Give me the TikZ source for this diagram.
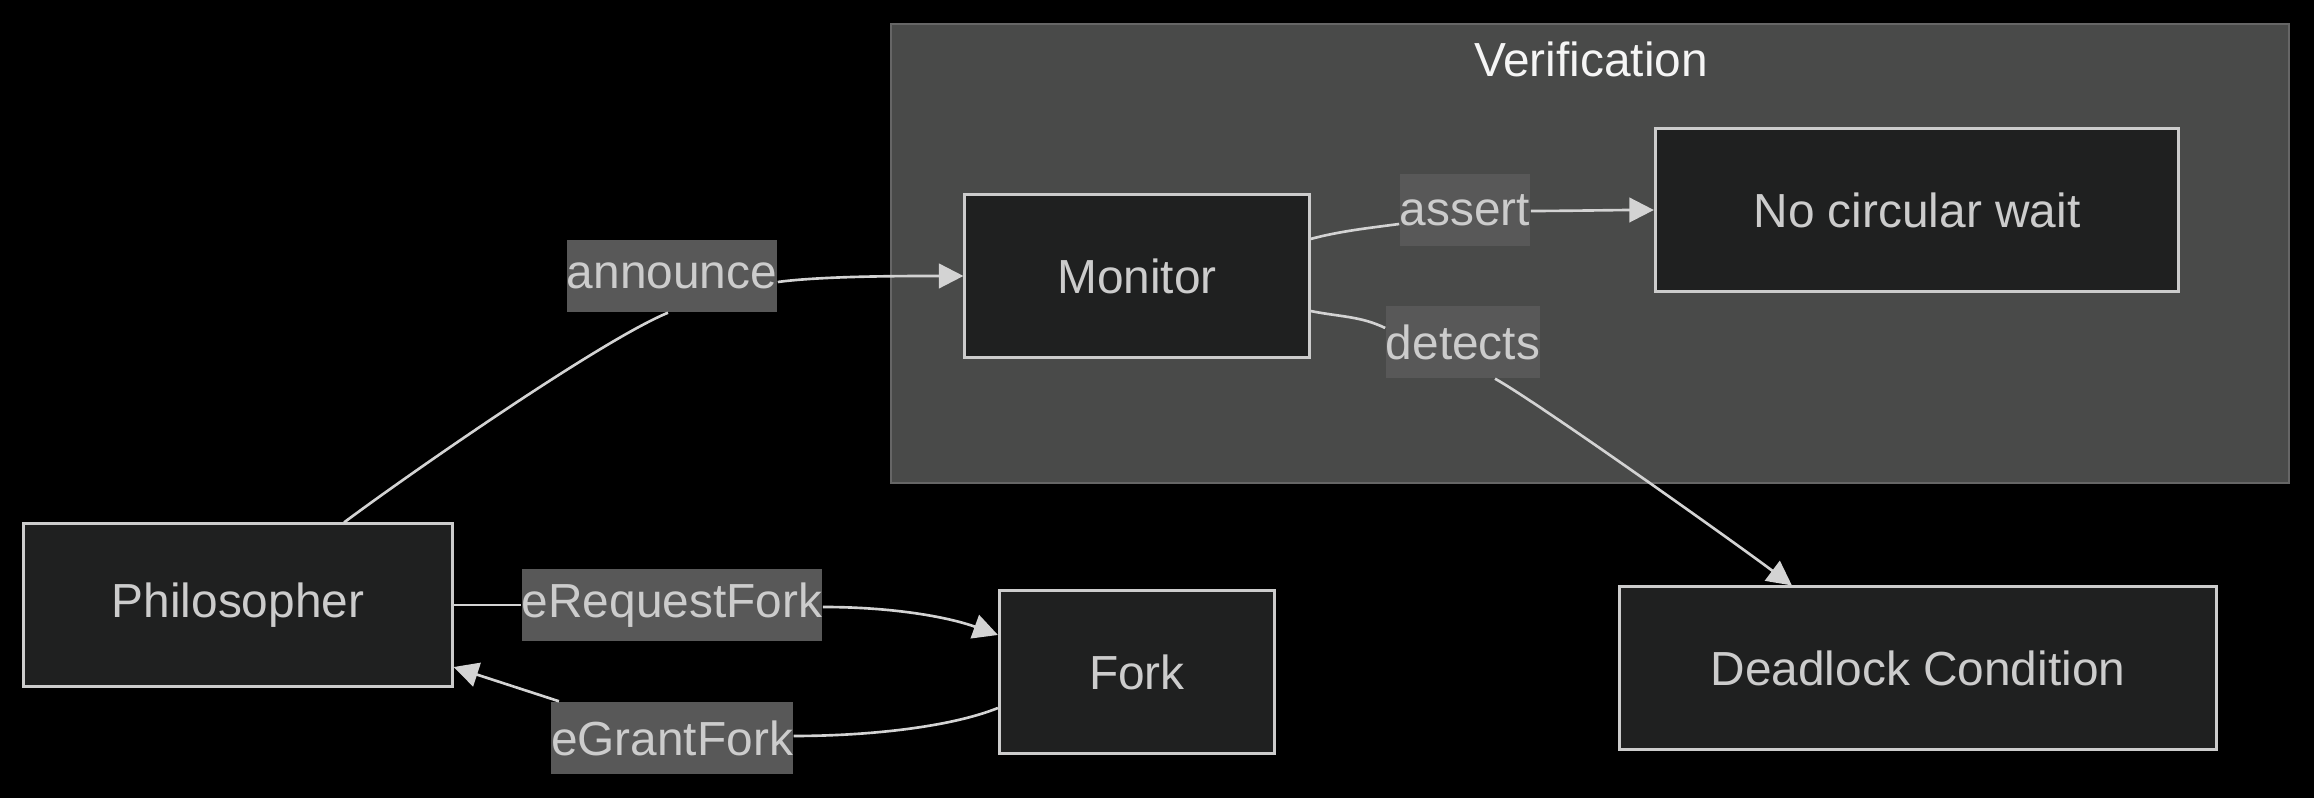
\documentclass[tikz,border=0pt]{standalone}
\usepackage{fontspec}
\setmainfont{Liberation Sans}
\usepackage{tikz}
\usetikzlibrary{arrows.meta}
\usepackage{xcolor}

\definecolor{nodefill}{HTML}{1F2020}
\definecolor{nodeline}{HTML}{CCCCCC}
\definecolor{clusterfill}{HTML}{494A49}
\definecolor{clusterline}{HTML}{666666}
\definecolor{labelfill}{HTML}{585858}
\definecolor{edgeline}{HTML}{D3D3D3}
\definecolor{textgrey}{HTML}{CCCCCC}
\definecolor{titlewhite}{HTML}{F5F5F5}

\newcommand{\diagfont}{\fontsize{13.6}{16}\selectfont}

\tikzset{
  nodebox/.style={draw=nodeline, fill=nodefill, line width=0.85pt, text=textgrey,
    minimum height=1.62cm, inner sep=0pt, font=\diagfont},
  edgelabel/.style={fill=labelfill, text=textgrey, minimum height=0.72cm,
    inner sep=0pt, font=\diagfont},
  link/.style={draw=edgeline, line width=0.75pt},
  flow/.style={link, -{Triangle[length=7pt,width=7pt]}}
}

\begin{document}
\begin{tikzpicture}[x=0.01cm, y=-0.01cm]
    % Fundo
    \fill[black] (0,0) rectangle (2314,798);
    % Grupo Verification
    \draw[fill=clusterfill, draw=clusterline, line width=0.6pt] (891,24) rectangle (2289,483);
    \node[text=titlewhite, font=\diagfont] (verif) at (1591,59) {Verification};
    % Nós
    \node[nodebox, minimum width=4.28cm] (phil) at (238,605) {Philosopher};
    \node[nodebox, minimum width=2.75cm] (fork) at (1137,672) {Fork};
    \node[nodebox, minimum width=3.44cm] (mon) at (1137,276) {Monitor};
    \node[nodebox, minimum width=5.23cm] (ncw) at (1917,210) {No circular wait};
    \node[nodebox, minimum width=5.96cm] (dead) at (1918,668) {Deadlock Condition};
    % Rótulos
    \node[edgelabel] (ann) at (672,276) {announce};
    \node[edgelabel] (req) at (672,605) {eRequestFork};
    \node[edgelabel] (grant) at (672,738) {eGrantFork};
    \node[edgelabel] (asrt) at (1465,210) {assert};
    \node[edgelabel] (det) at (1463,342) {detects};
    % Arestas
    \draw[link] ([xshift=1.06cm]phil.north) .. controls +(56,-42) and +(-68,28) .. ([xshift=-0.04cm]ann.south);
    \draw[flow] ([yshift=-0.06cm]ann.east) .. controls +(45,-6) and +(-60,0) .. (mon.west);
    \draw[link] ([yshift=0.37cm]mon.east) .. controls +(30,-8) and +(-30,4) .. ([yshift=-0.14cm]asrt.west);
    \draw[flow] ([yshift=-0.01cm]asrt.east) .. controls +(30,0) and +(-30,0) .. (ncw.west);
    \draw[link] ([yshift=-0.35cm]mon.east) .. controls +(30,6) and +(-25,-12) .. ([yshift=0.14cm]det.west);
    \draw[flow] ([xshift=0.32cm]det.south) .. controls +(40,22) and +(-60,-45) .. ([xshift=-1.26cm]dead.north);
    \draw[link] (phil.east) -- (req.west);
    \draw[flow] ([yshift=-0.02cm]req.east) .. controls +(70,0) and +(-50,-18) .. ([yshift=0.37cm]fork.west);
    \draw[link] ([yshift=-0.36cm]fork.west) .. controls +(-50,20) and +(70,0) .. ([yshift=0.02cm]grant.east);
    \draw[flow] ([xshift=-1.13cm]grant.north) -- ([yshift=-0.62cm]phil.east);
\end{tikzpicture}
\end{document}
